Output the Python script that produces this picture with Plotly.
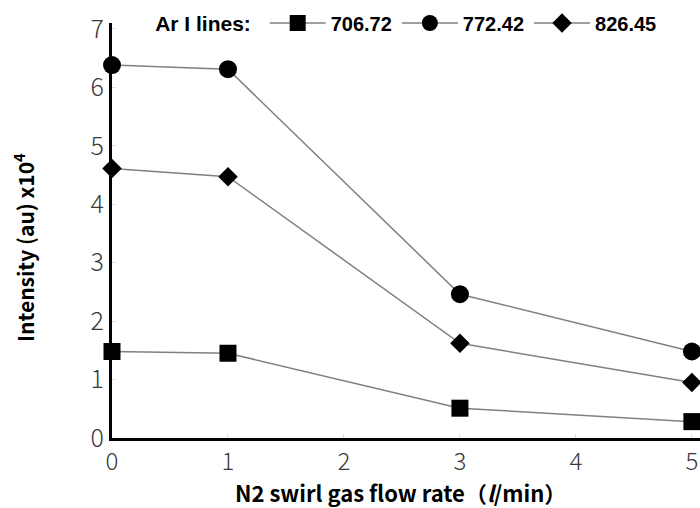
import plotly.graph_objects as go

flow = [0, 1, 3, 5]
ar_706 = [1.48, 1.45, 0.51, 0.28]
ar_772 = [6.38, 6.31, 2.46, 1.48]
ar_826 = [4.61, 4.47, 1.62, 0.95]
names = ["706.72", "772.42", "826.45"]
symbols = ["square", "circle", "diamond"]
sizes = [17, 18, 15]
x_ticks = [0, 1, 2, 3, 4, 5]
y_ticks = [0, 1, 2, 3, 4, 5, 6, 7]

FONT = "Noto Sans CJK JP"
LEG = "Liberation Sans"
fig = go.Figure()
for vals, name, sym, sz in zip([ar_706, ar_772, ar_826], names, symbols, sizes):
    fig.add_trace(go.Scatter(
        x=flow, y=vals, name=name, mode="lines+markers",
        line=dict(color="#808080", width=1.5),
        marker=dict(symbol=sym, size=sz, color="black"),
        cliponaxis=False,
    ))

fig.update_layout(
    width=700, height=508,
    margin=dict(l=112, r=0, t=23, b=70),
    plot_bgcolor="white", paper_bgcolor="white",
    font=dict(family=FONT, color="black"),
    showlegend=True,
    legend=dict(
        orientation="h", x=0.07, xanchor="left", y=1.0, yanchor="middle",
        title=dict(text="<b>Ar I lines: </b>", side="left", font=dict(size=21, family=LEG)),
        font=dict(size=20, family=LEG, weight="bold"),
        bgcolor="rgba(255,255,255,0)", itemwidth=56, tracegroupgap=0,
    ),
    xaxis=dict(
        range=[0, 5.07], tickvals=x_ticks, showgrid=False, zeroline=False,
        showline=True, linecolor="black", linewidth=3,
        ticks="inside", ticklen=4, tickcolor="#dddddd",
        tickfont=dict(size=24, color="#3a3a3a", family=FONT, weight=300),
    ),
    yaxis=dict(
        range=[0, 7.1], tickvals=y_ticks, showgrid=False, zeroline=False,
        showline=True, linecolor="black", linewidth=3,
        ticks="inside", ticklen=4, tickcolor="#dddddd",
        tickfont=dict(size=25, color="#3a3a3a", family=FONT, weight=300),
    ),
    annotations=[
        dict(
            text="<b>Intensity (au) x10<sup>4</sup></b>", textangle=-90,
            xref="paper", yref="paper", x=-0.15, y=0.46,
            xanchor="center", yanchor="middle", showarrow=False,
            font=dict(size=21, family=FONT, color="black"),
        ),
        dict(
            text="<b>N2 swirl gas flow rate（<i>l</i>/min）</b>",
            xref="paper", yref="paper", x=0.49, y=-0.13,
            xanchor="center", yanchor="middle", showarrow=False,
            font=dict(size=22, family=FONT, color="black"),
        ),
    ],
)

fig.write_html("out.html")
